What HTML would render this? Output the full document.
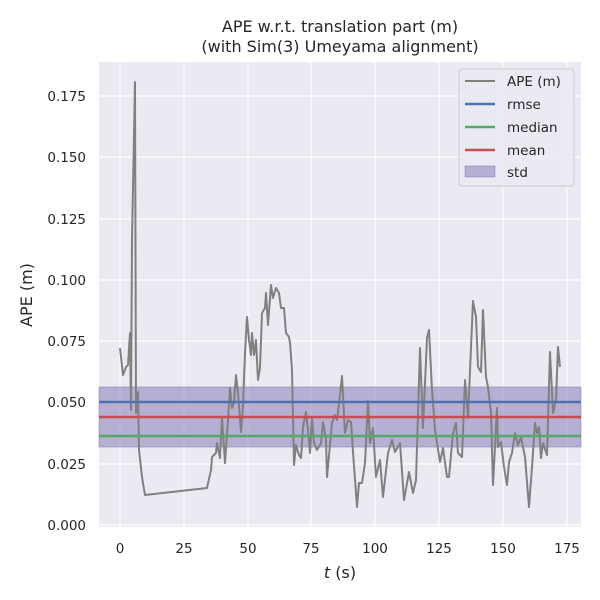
<!DOCTYPE html>
<html><head><meta charset="utf-8"><style>body{margin:0;background:#fff}svg{display:block}text{font-family:"DejaVu Sans","Liberation Sans",sans-serif;fill:#262626}</style></head><body>
<svg width="600" height="600" viewBox="0 0 600 600">
<rect x="99" y="62" width="482" height="465" fill="#eaeaf2"/>
<g stroke="#fff" stroke-width="1.2">
<line x1="120" y1="62" x2="120" y2="527"/><line x1="184" y1="62" x2="184" y2="527"/><line x1="248" y1="62" x2="248" y2="527"/><line x1="311" y1="62" x2="311" y2="527"/><line x1="375" y1="62" x2="375" y2="527"/><line x1="439" y1="62" x2="439" y2="527"/><line x1="503" y1="62" x2="503" y2="527"/><line x1="567" y1="62" x2="567" y2="527"/>
<line x1="99" y1="525" x2="581" y2="525"/><line x1="99" y1="464" x2="581" y2="464"/><line x1="99" y1="402" x2="581" y2="402"/><line x1="99" y1="341" x2="581" y2="341"/><line x1="99" y1="280" x2="581" y2="280"/><line x1="99" y1="219" x2="581" y2="219"/><line x1="99" y1="157" x2="581" y2="157"/><line x1="99" y1="96" x2="581" y2="96"/>
</g>
<rect x="99" y="387" width="482" height="60" fill="#8172b3" fill-opacity="0.5" stroke="#8172b3" stroke-opacity="0.5"/>
<polyline fill="none" stroke="#808080" stroke-width="2" stroke-linejoin="round" points="120,348 123,375 126,367 128,365 130,333 131,410 132,240 135,82 136,413 138,392 139,450 142,477 145,495 207,488 211,470 212,457 216,453 217,443 220,458 222,418 225,463 228,420 230,388 232,408 234,403 236,375 238,393 241,432 243,405 245,353 247,317 249,340 251,355 252,333 254,355 256,340 258,380 260,368 262,313 265,308 266,293 268,325 271,285 273,298 276,288 279,293 281,308 284,308 286,333 289,337 290,343 292,370 294,465 296,445 299,455 301,458 303,427 306,412 308,430 310,453 312,418 314,443 317,450 321,443 323,422 326,440 327,477 332,423 335,415 337,420 340,395 342,376 345,433 348,420 351,422 353,452 357,507 359,483 362,483 365,463 368,401 370,443 373,428 376,477 380,460 383,497 388,453 392,440 395,452 400,443 404,500 409,472 413,493 416,480 420,348 423,428 427,338 429,330 432,390 435,430 440,462 443,448 447,477 449,477 453,433 456,423 458,453 462,457 465,380 468,418 473,301 476,317 478,367 481,372 483,310 486,377 488,387 491,413 493,485 497,408 498,447 501,442 504,467 507,485 509,462 512,453 515,433 518,445 521,437 525,457 529,507 532,467 535,423 537,433 539,427 541,458 543,443 547,455 550,352 553,413 556,400 558,347 560,367"/>
<line x1="99" y1="402" x2="581" y2="402" stroke="#4c72b0" stroke-width="2.5"/>
<line x1="99" y1="417" x2="581" y2="417" stroke="#c44e52" stroke-width="2.5"/>
<line x1="99" y1="436" x2="581" y2="436" stroke="#55a868" stroke-width="2.5"/>
<g font-size="13.5" text-anchor="middle">
<text x="120" y="553">0</text><text x="184" y="553">25</text><text x="248" y="553">50</text><text x="311" y="553">75</text><text x="375" y="553">100</text><text x="439" y="553">125</text><text x="503" y="553">150</text><text x="567" y="553">175</text>
</g>
<g font-size="13.5" text-anchor="end">
<text x="86" y="530">0.000</text><text x="86" y="469">0.025</text><text x="86" y="407">0.050</text><text x="86" y="346">0.075</text><text x="86" y="285">0.100</text><text x="86" y="224">0.125</text><text x="86" y="162">0.150</text><text x="86" y="101">0.175</text>
</g>
<text x="340" y="578" font-size="16" text-anchor="middle"><tspan font-style="italic">t</tspan> (s)</text>
<text x="32" y="295" font-size="16" text-anchor="middle" transform="rotate(-90 32 295)">APE (m)</text>
<text x="340" y="32" font-size="16" text-anchor="middle">APE w.r.t. translation part (m)</text>
<text x="340" y="52" font-size="16" text-anchor="middle">(with Sim(3) Umeyama alignment)</text>
<rect x="459" y="69" width="115" height="117" rx="3" fill="#eaeaf2" fill-opacity="0.8" stroke="#ccc"/>
<g stroke-width="2.5">
<line x1="465" y1="81" x2="495" y2="81" stroke="#808080" stroke-width="2"/>
<line x1="465" y1="104" x2="495" y2="104" stroke="#4c72b0"/>
<line x1="465" y1="127" x2="495" y2="127" stroke="#55a868"/>
<line x1="465" y1="150" x2="495" y2="150" stroke="#c44e52"/>
</g>
<rect x="465" y="166" width="30" height="11" fill="#8172b3" fill-opacity="0.5" stroke="#8172b3" stroke-opacity="0.5"/>
<g font-size="13.5">
<text x="507" y="86">APE (m)</text><text x="507" y="109">rmse</text><text x="507" y="132">median</text><text x="507" y="155">mean</text><text x="507" y="177">std</text>
</g>
</svg>
</body></html>
